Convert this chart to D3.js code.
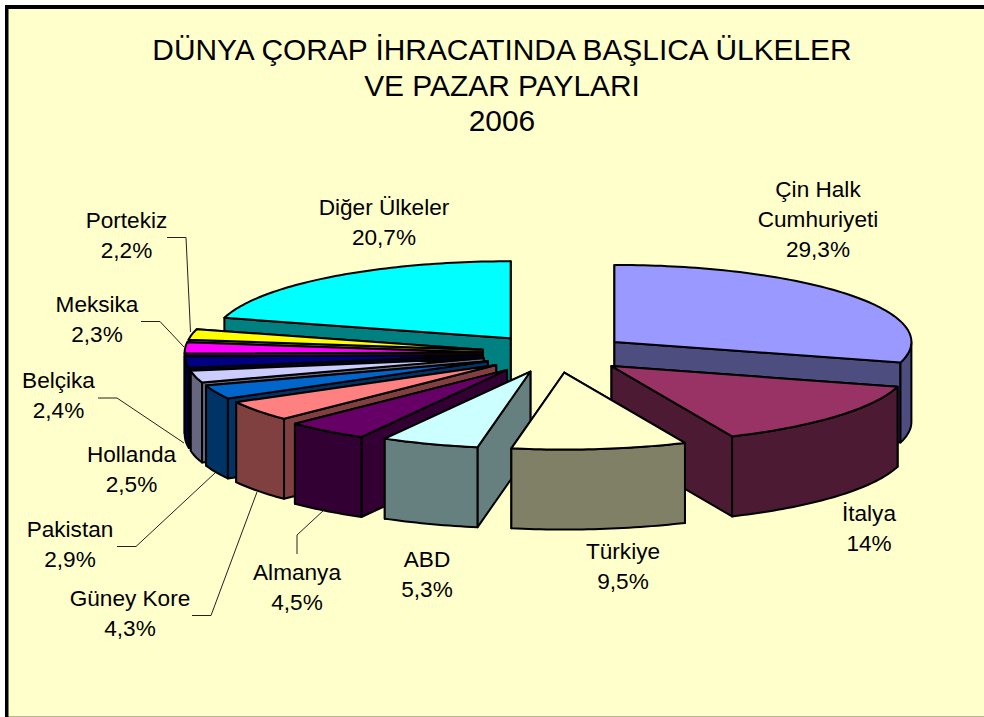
<!DOCTYPE html>
<html><head><meta charset="utf-8">
<style>html,body{margin:0;padding:0;background:#fff}svg{display:block}</style>
<script src="https://cdnjs.cloudflare.com/ajax/libs/d3/7.8.5/d3.min.js"></script>
</head><body><svg id="c" width="984" height="717"></svg>
<script>
const categories=["Çin Halk Cumhuriyeti","İtalya","Türkiye","ABD","Almanya","Güney Kore","Pakistan","Hollanda","Belçika","Meksika","Portekiz","Diğer Ülkeler"];
const shares=[29.3,14,9.5,5.3,4.5,4.3,2.9,2.5,2.4,2.3,2.2,20.7];
const shareLabels=["29,3%","14%","9,5%","5,3%","4,5%","4,3%","2,9%","2,5%","2,4%","2,3%","2,2%","20,7%"];
const topColors=["#9999FF","#993366","#FFFFCC","#CCFFFF","#660066","#FF8080","#0066CC","#CCCCFF","#000080","#FF00FF","#FFFF00","#00FFFF"];
const sideColors=["#4D4D80","#4D1A33","#808066","#668080","#330033","#804040","#003366","#666680","#000040","#800080","#808000","#008080"];
const titleLines=["DÜNYA ÇORAP İHRACATINDA BAŞLICA ÜLKELER","VE PAZAR PAYLARI","2006"];
const labelNames=[["Çin Halk","Cumhuriyeti"],["İtalya"],["Türkiye"],["ABD"],["Almanya"],["Güney Kore"],["Pakistan"],["Hollanda"],["Belçika"],["Meksika"],["Portekiz"],["Diğer Ülkeler"]];
const labelPos=[[818,197],[869,521],[623,559],[427,567],[297,580],[130,606],[70,537],[131.5,462],[58.5,388],[97,312],[126.5,227.5],[384,215]];
const leaders=[
 [[167,237.5],[186,237.5],[190.5,332]],
 [[141,321.5],[160,321.5],[184,347]],
 [[98,398],[117,398],[184,443]],
 [[117,546.5],[136,546.5],[215,473]],
 [[192,615.5],[211,615.5],[257,492]],
 [[297,554],[297,535],[324,510]]];
const explosions=[0.249,0.249,0.249,0.249,0.268,0.249,0.249,0.249,0.249,0.249,0.249,0.249];

const svg=d3.select("#c");
svg.append("rect").attr("x",5).attr("y",5).attr("width",979).attr("height",711.5).attr("fill","#FFFFCC");
svg.append("line").attr("x1",8).attr("x2",984).attr("y1",716.5).attr("y2",716.5).attr("stroke","#B5B58E");
svg.append("line").attr("x1",5).attr("x2",984).attr("y1",7).attr("y2",7).attr("stroke","#000").attr("stroke-width",4);
svg.append("line").attr("x1",6.75).attr("x2",6.75).attr("y1",5).attr("y2",717).attr("stroke","#000").attr("stroke-width",3.5);

const font="'Liberation Sans',Arial,sans-serif";
svg.append("g").selectAll("text").data(titleLines).join("text")
  .attr("x",502).attr("y",(d,i)=>60+i*35.5).attr("text-anchor","middle")
  .attr("font-family",font).attr("font-size",29.9).attr("fill","#000").text(d=>d);

const cx=555.5,cy=353.5,rx=297,ry=77,depth=80;
const pie=d3.pie().sort(null).value(d=>d);
const arcs=pie(shares);
const pt=(c,a,z=0)=>[c[0]+rx*Math.sin(a),c[1]-ry*Math.cos(a)+z];
const line=d3.line();
const rim=(c,a0,a1,z=0)=>{
  const n=Math.max(2,Math.ceil((a1-a0)/0.02));
  return d3.range(n+1).map(i=>pt(c,a0+(a1-a0)*i/n,z));
};
const drawOrder=[0,11,10,9,8,7,6,5,4,3,1,2];
const gp=svg.append("g").attr("stroke","#000").attr("stroke-width",2).attr("stroke-linejoin","round");
drawOrder.forEach(i=>{
  const a=arcs[i],mid=(a.startAngle+a.endAngle)/2,e=explosions[i];
  const c=[cx+e*rx*Math.sin(mid),cy-e*ry*Math.cos(mid)];
  const side=sideColors[i];
  const g=gp.append("g");
  // right-hand wedges show their end wall, left-hand wedges their start wall
  const walls=mid<Math.PI?[a.startAngle,a.endAngle]:[a.endAngle,a.startAngle];
  walls.forEach(t=>{
    const p=pt(c,t);
    g.append("path").attr("fill",side).attr("d",line([c,p,[p[0],p[1]+depth],[c[0],c[1]+depth]])+"Z");
  });
  const lo=Math.max(a.startAngle,Math.PI/2),hi=Math.min(a.endAngle,3*Math.PI/2);
  if(hi>lo){
    g.append("path").attr("fill",side)
     .attr("d",line(rim(c,lo,hi).concat(rim(c,lo,hi,depth).reverse()))+"Z");
  }
  g.append("path").attr("fill",topColors[i])
   .attr("d",line([c].concat(rim(c,a.startAngle,a.endAngle)))+"Z");
});
svg.append("g").selectAll("path").data(leaders).join("path")
  .attr("d",d=>line(d)).attr("fill","none").attr("stroke","#222").attr("stroke-width",1);
const lab=svg.append("g").attr("font-family",font).attr("font-size",22.6).attr("text-anchor","middle").attr("fill","#000");
labelNames.forEach((names,k)=>{
  const [x,y]=labelPos[k];
  names.concat(shareLabels[k]).forEach((t,i)=>lab.append("text").attr("x",x).attr("y",y+i*30).text(t));
});
</script></body></html>
